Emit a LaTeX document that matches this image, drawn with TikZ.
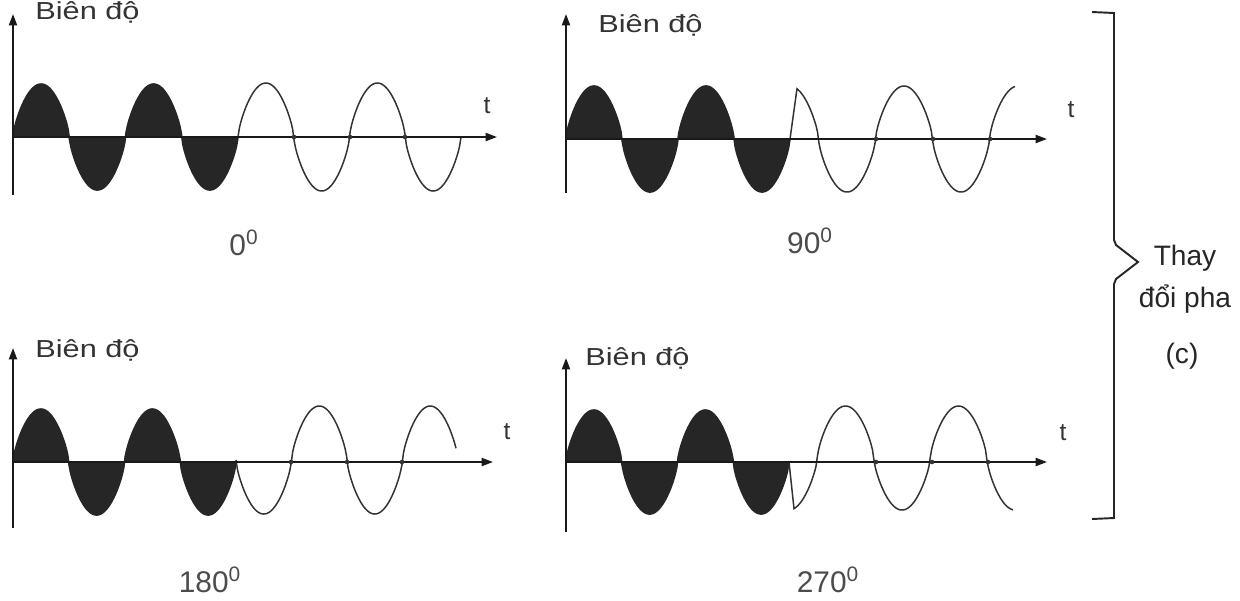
\documentclass[tikz,border=0pt]{standalone}
\usepackage{fontspec}
\setmainfont{Liberation Sans}
\newfontfamily\widesans[FakeStretch=1.25]{Liberation Sans}
\usetikzlibrary{arrows.meta}

\tikzset{
  axisline/.style={line width=1.1pt,draw=black!90,-{Triangle[length=6.5pt,width=4.6pt]}},
  darkwave/.style={fill=black!85,draw=black!85,line width=0.9pt},
  lightwave/.style={draw=black!80,line width=0.85pt},
  bracketline/.style={draw=black!85,line width=1.1pt},
  biendo/.style={anchor=base west,inner sep=0pt,text=black!80,font=\widesans\fontsize{14}{17}\selectfont},
  tlabel/.style={inner sep=0pt,text=black!80,font=\fontsize{14}{17}\selectfont},
  phaselabel/.style={inner sep=0pt,text=black!70,font=\fontsize{17}{20}\selectfont},
  sidelabel/.style={inner sep=0pt,text=black!85,align=center,font=\fontsize{16}{24}\selectfont},
}

\begin{document}
\begin{tikzpicture}[x=0.02cm,y=-0.02cm,
  declare function={rsin(\a)=sign(sin(\a))*pow(abs(sin(\a))+0.0001,0.7);
                    rcos(\a)=sign(cos(\a))*pow(abs(cos(\a))+0.0001,0.7);}]
  \useasboundingbox (0,0) rectangle (1240,600);

  \coordinate (oA) at (13,137);
  \coordinate (yA) at (13,14);
  \coordinate (bA) at (13,195);
  \coordinate (tA) at (497,137);
  \filldraw[darkwave] plot[domain=13:238,samples=160] (\x,{137-53*rsin((\x-13)/56.25*180)}) -- cycle;
  \draw[lightwave] plot[domain=238:461,samples=160] (\x,{137-54*rsin((\x-238)/55.75*180)});
  \draw[axisline] (bA) -- (yA);
  \draw[axisline] (oA) -- (tA);
  \fill[black!80] (294,137) circle (1.3pt) (350,137) circle (1.3pt) (405,137) circle (1.3pt);
  \node[biendo] (bdA) at (35,19) {Biên độ};
  \node[tlabel] (tlA) at (487,106) {t};
  \node[phaselabel] (phA) at (244,243) {0\textsuperscript{0}};

  \coordinate (oB) at (566,139);
  \coordinate (yB) at (566,14);
  \coordinate (bB) at (566,193);
  \coordinate (tB) at (1047,139);
  \filldraw[darkwave] plot[domain=566:790,samples=160] (\x,{139-53*rsin((\x-566)/56*180)}) -- cycle;
  \draw[lightwave] (790,139) -- plot[domain=797:1015,samples=160] (\x,{139-53*rcos((\x-790)/57*180)});
  \draw[axisline] (bB) -- (yB);
  \draw[axisline] (oB) -- (tB);
  \fill[black!80] (876,139) circle (1.3pt) (933,139) circle (1.3pt) (990,139) circle (1.3pt);
  \node[biendo] (bdB) at (598,32) {Biên độ};
  \node[tlabel] (tlB) at (1071,110) {t};
  \node[phaselabel] (phB) at (810,241) {90\textsuperscript{0}};

  \coordinate (oC) at (13,462);
  \coordinate (yC) at (13,348);
  \coordinate (bC) at (13,528);
  \coordinate (tC) at (493,462);
  \filldraw[darkwave] plot[domain=13:236,samples=160] (\x,{462-53*rsin((\x-13)/55.75*180)}) -- cycle;
  \draw[lightwave] plot[domain=236:456,samples=160] (\x,{460+54*rsin((\x-236)/55.5*180)});
  \draw[axisline] (bC) -- (yC);
  \draw[axisline] (oC) -- (tC);
  \fill[black!80] (291,462) circle (1.3pt) (347,462) circle (1.3pt) (402,462) circle (1.3pt);
  \node[biendo] (bdC) at (35,357) {Biên độ};
  \node[tlabel] (tlC) at (507,432) {t};
  \node[phaselabel] (phC) at (210,580) {180\textsuperscript{0}};

  \coordinate (oD) at (566,462);
  \coordinate (yD) at (566,358);
  \coordinate (bD) at (566,532);
  \coordinate (tD) at (1047,462);
  \filldraw[darkwave] plot[domain=566:789,samples=160] (\x,{462-52*rsin((\x-566)/55.75*180)}) -- cycle;
  \draw[lightwave] (789,462) -- plot[domain=794:1013,samples=160] (\x,{458+52*rcos((\x-789)/56.5*180)});
  \draw[axisline] (bD) -- (yD);
  \draw[axisline] (oD) -- (tD);
  \fill[black!80] (876,462) circle (1.3pt) (932,462) circle (1.3pt) (988,462) circle (1.3pt);
  \node[biendo] (bdD) at (585,365) {Biên độ};
  \node[tlabel] (tlD) at (1063,433) {t};
  \node[phaselabel] (phD) at (828,580) {270\textsuperscript{0}};

  \draw[bracketline] (1092,12) -- (1114,13) -- (1114,240) -- (1116,245) -- (1138,262)
    -- (1116,279) -- (1114,284) -- (1114,518) -- (1092,519);
  \node[sidelabel] (thay) at (1185,279) {Thay\\đổi pha};
  \node[sidelabel] (tagc) at (1182,356) {(c)};
\end{tikzpicture}
\end{document}
